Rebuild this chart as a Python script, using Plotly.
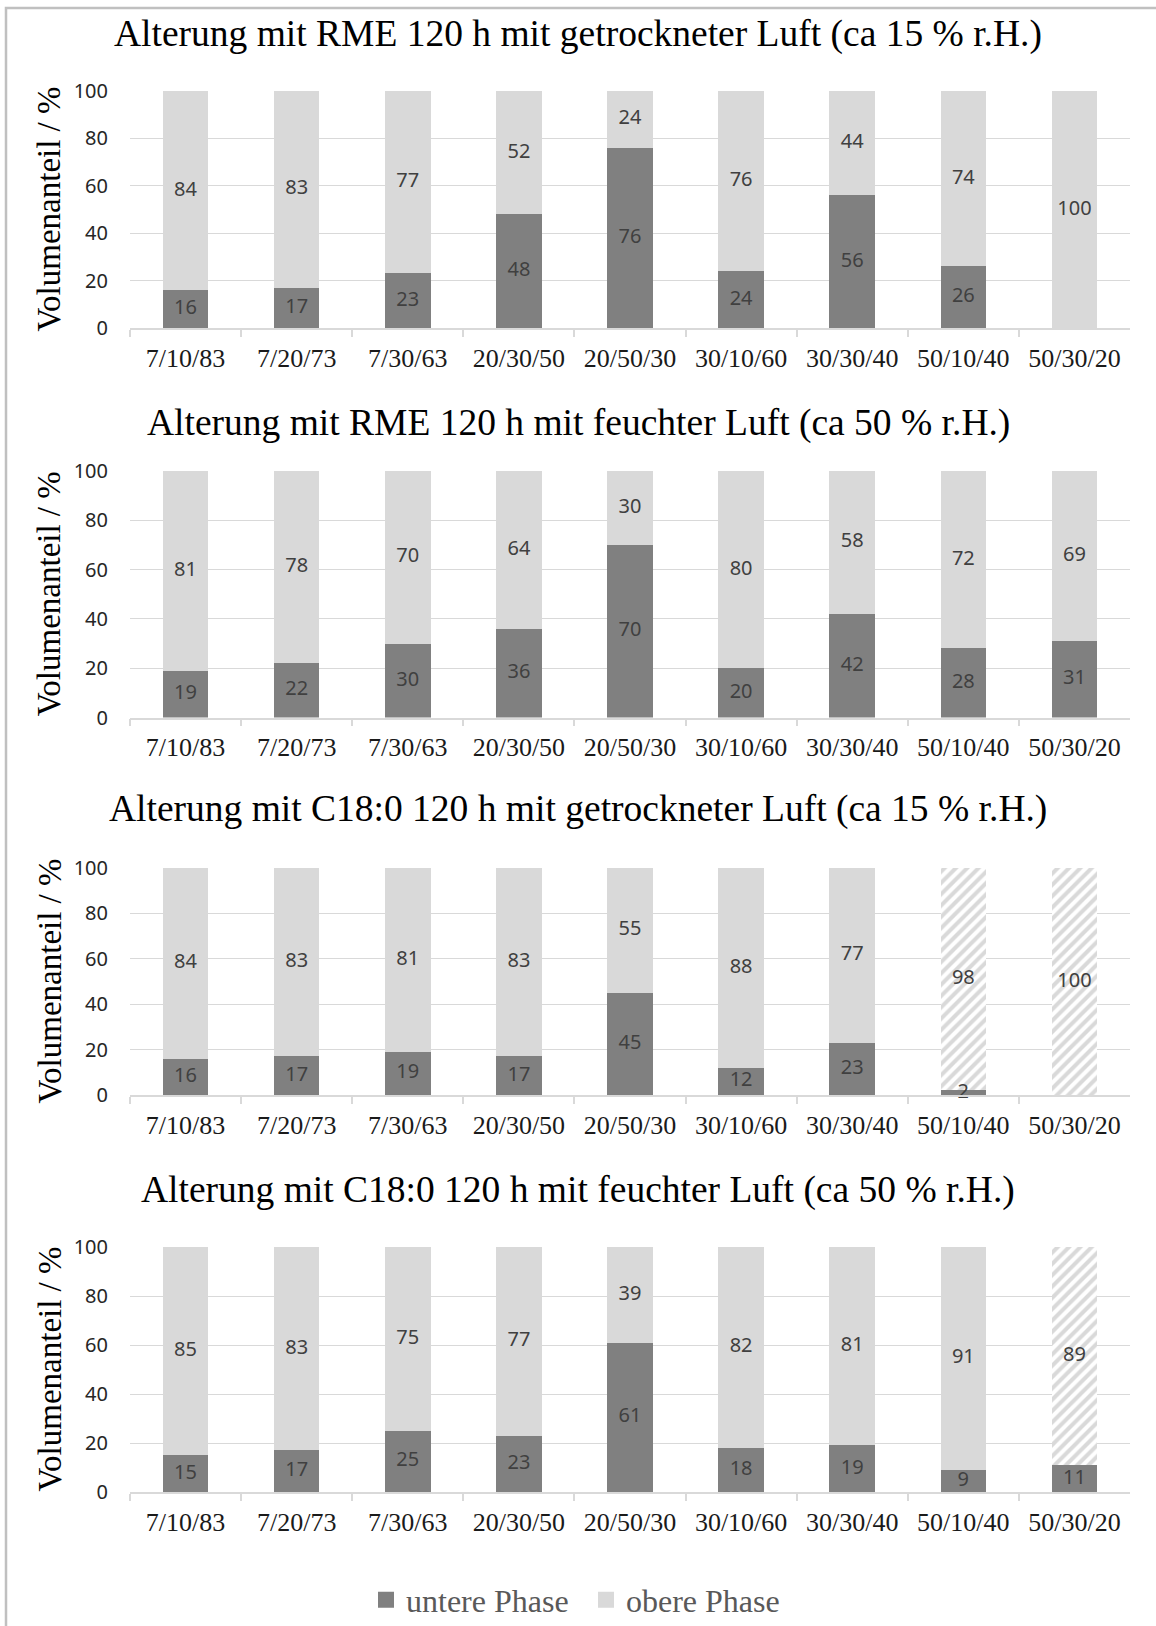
import plotly.graph_objects as go
from plotly.subplots import make_subplots

# Mixtures (volume ratios)
categories = ["7/10/83", "7/20/73", "7/30/63", "20/30/50", "20/50/30",
              "30/10/60", "30/30/40", "50/10/40", "50/30/20"]

titles = [
    "Alterung mit RME 120 h mit getrockneter Luft (ca 15 % r.H.)",
    "Alterung mit RME 120 h mit feuchter Luft (ca 50 % r.H.)",
    "Alterung mit C18:0 120 h mit getrockneter Luft (ca 15 % r.H.)",
    "Alterung mit C18:0 120 h mit feuchter Luft (ca 50 % r.H.)",
]

# Volume share of the lower / upper phase in %
rme_dry_lower = [16, 17, 23, 48, 76, 24, 56, 26, 0]
rme_dry_upper = [84, 83, 77, 52, 24, 76, 44, 74, 100]

rme_wet_lower = [19, 22, 30, 36, 70, 20, 42, 28, 31]
rme_wet_upper = [81, 78, 70, 64, 30, 80, 58, 72, 69]

c18_dry_lower = [16, 17, 19, 17, 45, 12, 23, 2, 0]
c18_dry_upper = [84, 83, 81, 83, 55, 88, 77, 98, 100]

c18_wet_lower = [15, 17, 25, 23, 61, 18, 19, 9, 11]
c18_wet_upper = [85, 83, 75, 77, 39, 82, 81, 91, 89]

# Upper phases marked with hatching (True = hatched)
rme_dry_hatch = [False] * 9
rme_wet_hatch = [False] * 9
c18_dry_hatch = [False, False, False, False, False, False, False, True, True]
c18_wet_hatch = [False, False, False, False, False, False, False, False, True]

panels = [
    (rme_dry_lower, rme_dry_upper, rme_dry_hatch),
    (rme_wet_lower, rme_wet_upper, rme_wet_hatch),
    (c18_dry_lower, c18_dry_upper, c18_dry_hatch),
    (c18_wet_lower, c18_wet_upper, c18_wet_hatch),
]

W, H = 1156, 1626
DARK = "#808080"
LIGHT = "#d9d9d9"
GRID = "#d9d9d9"
LABEL = "#404040"
SERIF = "Liberation Serif, Times New Roman, serif"
SANS = "Noto Sans, Open Sans, sans-serif"

# pixel bounds of each plot area (top, bottom)
plot_rows = [(91, 328), (471, 717.5), (868, 1095), (1247, 1492)]
title_y = [34, 423, 809, 1190]
x_left, x_right = 130, 1130


def py(px):
    return 1 - px / H


fig = make_subplots(rows=4, cols=1)

for i, (lower, upper, hatch) in enumerate(panels):
    r = i + 1
    shapes = ["/" if h else "" for h in hatch]

    fig.add_trace(go.Bar(
        x=categories, y=lower, name="untere Phase",
        marker=dict(color=DARK, line=dict(width=0)),
        width=0.41, showlegend=False, hoverinfo="skip",
    ), row=r, col=1)
    fig.add_trace(go.Bar(
        x=categories, y=upper, name="obere Phase",
        marker=dict(color=LIGHT, line=dict(width=0),
                    pattern=dict(shape=shapes, fillmode="replace",
                                 fgcolor=LIGHT, bgcolor="white",
                                 size=8, solidity=0.5)),
        width=0.41, showlegend=False, hoverinfo="skip",
    ), row=r, col=1)

    # value labels centred in each segment
    lx, ly, lt = [], [], []
    for c, lo, up in zip(categories, lower, upper):
        if lo > 0:
            lx.append(c); ly.append(lo / 2); lt.append(str(lo))
        if up > 0:
            lx.append(c); ly.append(lo + up / 2); lt.append(str(up))
    fig.add_trace(go.Scatter(
        x=lx, y=ly, text=lt, mode="text", showlegend=False,
        textfont=dict(family=SANS, size=20, color=LABEL),
        textposition="middle center", hoverinfo="skip", cliponaxis=False,
    ), row=r, col=1)

    top, bottom = plot_rows[i]
    fig.update_yaxes(
        domain=[py(bottom), py(top)], range=[0, 100], dtick=20,
        showgrid=True, gridcolor=GRID, gridwidth=1, zeroline=False,
        showline=False, ticks="", ticklabelstandoff=21, automargin=False,
        tickfont=dict(family=SANS, size=20, color="#262626"),
        fixedrange=True, row=r, col=1)
    fig.update_xaxes(
        domain=[x_left / W, x_right / W], type="category",
        showline=True, linecolor=GRID, linewidth=1.5,
        ticks="outside", tickson="boundaries", ticklen=7, tickcolor=GRID,
        tickwidth=1.5, showgrid=False, ticklabelstandoff=6, automargin=False,
        tickfont=dict(family=SERIF, size=26, color="#1a1a1a"),
        fixedrange=True, row=r, col=1)

    fig.add_annotation(
        text=titles[i], xref="paper", yref="paper", x=0.5, y=py(title_y[i]),
        xanchor="center", yanchor="middle", showarrow=False,
        font=dict(family=SERIF, size=37.5, color="black"))
    fig.add_annotation(
        text="Volumenanteil / %", xref="paper", yref="paper",
        x=49 / W, y=py((top + bottom) / 2), textangle=-90,
        xanchor="center", yanchor="middle", showarrow=False,
        font=dict(family=SERIF, size=33, color="black"))

# legend entries (square swatches), one legend box per entry
legend_font = dict(family=SERIF, size=32, color="#595959")
for name, col, lg in [("untere Phase", DARK, "legend"), ("obere Phase", LIGHT, "legend2")]:
    fig.add_trace(go.Scatter(
        x=[None], y=[None], mode="markers", name=name,
        marker=dict(symbol="square", size=16, color=col),
        showlegend=True, hoverinfo="skip", legend=lg,
    ), row=1, col=1)

# outer frame
fig.add_shape(type="rect", xref="paper", yref="paper",
              x0=6 / W, x1=1.02, y0=-0.02, y1=py(8),
              line=dict(color="#c0c0c0", width=2.5), fillcolor="rgba(0,0,0,0)")

fig.update_layout(
    width=W, height=H, margin=dict(l=0, r=0, t=0, b=0, autoexpand=False),
    paper_bgcolor="white", plot_bgcolor="white",
    barmode="stack",
    legend=dict(orientation="h", x=366 / W, xanchor="left", y=py(1600),
                yanchor="middle", font=legend_font, itemwidth=30,
                bgcolor="rgba(0,0,0,0)"),
    legend2=dict(orientation="h", x=586 / W, xanchor="left", y=py(1600),
                 yanchor="middle", font=legend_font, itemwidth=30,
                 bgcolor="rgba(0,0,0,0)"),
)

fig.write_html("out.html")
